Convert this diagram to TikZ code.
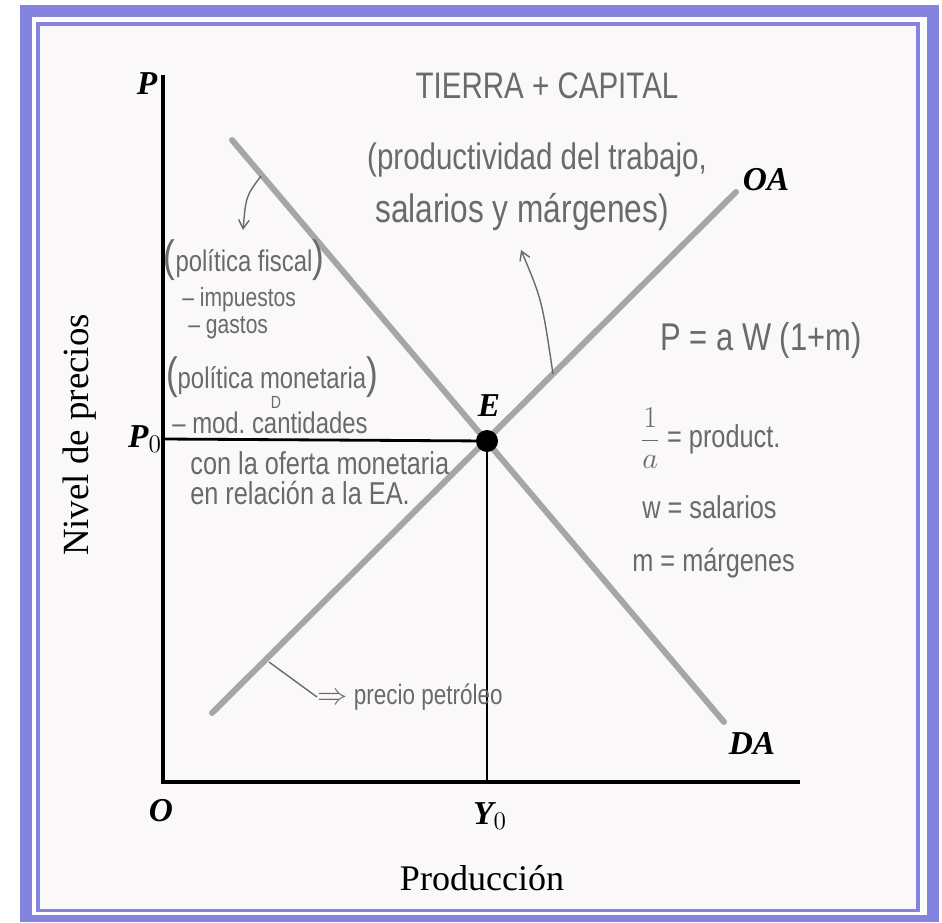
\documentclass[tikz,border=0pt]{standalone}
\usepackage{fontspec}
\setmainfont{Liberation Serif}
\newfontfamily\handfont[FakeStretch=0.8]{Liberation Sans}
\usetikzlibrary{arrows.meta,calc}
\definecolor{FrameBlue}{HTML}{8484E0}
\definecolor{CurveGray}{HTML}{A6A6A6}
\definecolor{HandGray}{HTML}{6A6A6A}
\definecolor{PaperTone}{HTML}{FAF8F8}

\begin{document}
\begin{tikzpicture}[x=0.02cm,y=-0.02cm,
    axislab/.style={font=\bfseries\itshape\fontsize{19}{21}\selectfont,inner sep=1pt},
    titlelab/.style={font=\fontsize{21}{23}\selectfont,inner sep=1pt},
    curve/.style={CurveGray,line width=3.4pt,line cap=round},
    hand/.style={HandGray,font=\handfont\fontsize{17}{19}\selectfont,inner sep=0pt},
    note/.style={HandGray,line width=0.8pt,-{Straight Barb[length=5pt,width=6pt]}}
  ]

    % Frame
    \useasboundingbox (0,0) rectangle (942,922);
    \fill[white] (0,0) rectangle (942,922);
    \fill[FrameBlue] (20,5) rectangle (939,922);
    \fill[white] (32,17) rectangle (927,915);
    \fill[FrameBlue] (36,22) rectangle (920,912);
    \fill[PaperTone] (40,26) rectangle (916,909);

    % Axes
    \coordinate (O) at (163,782);
    \coordinate (ytop) at (163,75);
    \coordinate (xend) at (800,782);
    \draw[line width=2.2pt] (ytop) -- (O) -- (xend);

    % Supply and demand
    \coordinate (E) at (487,441);
    \coordinate (oa1) at (212,713);
    \coordinate (oa2) at (736,192);
    \coordinate (da1) at (232,140);
    \coordinate (da2) at (724,722);
    \draw[curve] (oa1) -- (oa2);
    \draw[curve] (da1) -- (da2);

    % Equilibrium
    \coordinate (P0) at (163,439);
    \coordinate (Y0) at (487,782);
    \draw[line width=1.6pt] (P0) -- (E);
    \draw[line width=1pt] (E) -- (Y0);
    \fill (E) circle[radius=0.22cm];

    % Labels
    \node[axislab] (lP) at (147,84) {P};
    \node[axislab] (lO) at (161,811) {O};
    \node[axislab] (lY) at (490,816) {Y$_0$};
    \node[axislab] (lPo) at (145,439) {P$_0$};
    \node[axislab] (lE) at (489,406) {E};
    \node[axislab] (lOA) at (766,180) {OA};
    \node[axislab] (lDA) at (752,744) {DA};
    \node[titlelab,rotate=90] (ylab) at (80,435) {Nivel de precios};
    \node[titlelab,font=\fontsize{20.5}{22}\selectfont] (xlab) at (482,878) {Producción};

    % Notes on the supply side
    \node[hand,font=\handfont\fontsize{21}{23}\selectfont] (tierra) at (547,86) {TIERRA + CAPITAL};
    \node[hand,font=\handfont\fontsize{21}{23}\selectfont] (prod1) at (537,160) {(productividad del trabajo,};
    \node[hand,font=\handfont\fontsize{22.5}{24}\selectfont] (prod2) at (522,212) {salarios y márgenes)};
    \draw[note] (553,374) .. controls (542,300) .. (521,250);

    \node[hand,font=\handfont\fontsize{16}{18}\selectfont] (precio) at (410,697) {$\Rightarrow$ precio petróleo};
    \coordinate (petr) at (269,662);
    \draw[HandGray,line width=0.8pt] (petr) -- (precio.west);

    % Notes on the demand side
    \draw[note] (261,176) .. controls (246,196) .. (243,230);
    \node[hand] (fiscal) at (244,260) {\fontsize{25}{27}\selectfont(\fontsize{17}{19}\selectfont política fiscal\fontsize{25}{27}\selectfont)};
    \node[hand,anchor=west,font=\handfont\fontsize{15}{17}\selectfont] (imp) at (182,300) {– impuestos};
    \node[hand,anchor=west,font=\handfont\fontsize{15}{17}\selectfont] (gas) at (188,328) {– gastos};
    \node[hand] (monet) at (272,377) {\fontsize{25}{27}\selectfont(\fontsize{17}{19}\selectfont política monetaria\fontsize{25}{27}\selectfont)};
    \node[hand,anchor=west,font=\handfont\fontsize{17}{19}\selectfont] (mod) at (172,423) {– mod.\ cantidades};
    \node[hand,font=\handfont\fontsize{10}{11}\selectfont] (modD) at (276,402) {D};
    \node[hand,anchor=west,font=\handfont\fontsize{18}{20}\selectfont] (ofer) at (190,463) {con la oferta monetaria};
    \node[hand,anchor=west,font=\handfont\fontsize{18}{20}\selectfont] (rel) at (190,493) {en relación a la EA.};

    % Price formula
    \node[hand,anchor=west,font=\handfont\fontsize{22}{24}\selectfont] (form) at (660,340) {P = a W (1+m)};
    \node[hand,anchor=west,font=\handfont\fontsize{18}{20}\selectfont] (lbl1) at (640,438) {$\displaystyle\frac{1}{a}$ = product.};
    \node[hand,anchor=west,font=\handfont\fontsize{18}{20}\selectfont] (lbl2) at (642,507) {w = salarios};
    \node[hand,anchor=west,font=\handfont\fontsize{18}{20}\selectfont] (lbl3) at (632,563) {m = márgenes};
\end{tikzpicture}
\end{document}
